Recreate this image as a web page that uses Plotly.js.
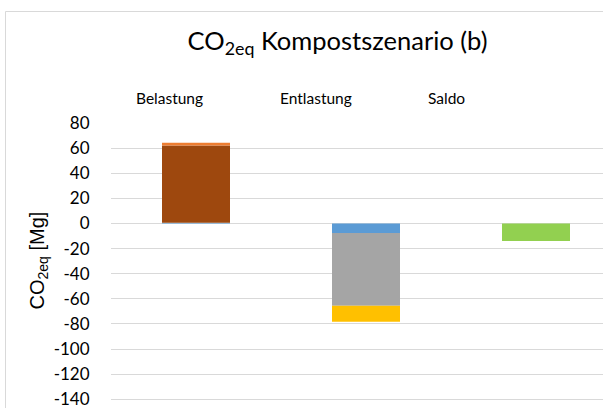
<!DOCTYPE html>
<html>
<head>
<meta charset="utf-8">
<script src="https://cdn.plot.ly/plotly-3.0.1.min.js"></script>
<style>html,body{margin:0;padding:0;background:#fff;overflow:hidden}#chart{width:603px;height:408px}</style>
</head>
<body>
<div id="chart"></div>
<script>
// Data
const categories = ["Belastung", "Entlastung", "Saldo"];
const seriesBlue   = [0.5, -7.5, 0];
const seriesBrown  = [61.5, 0, 0];
const seriesOrange = [2.3, 0, 0];
const seriesGray   = [0, -58, 0];
const seriesYellow = [0, -12.8, 0];
const seriesGreen  = [0, 0, -14];
const yTicks = [80, 60, 40, 20, 0, -20, -40, -60, -80, -100, -120, -140];

const W = 603, H = 408;
const L = 111, T = 123; // plot area left/top in px
const pw = W - L, ph = H - T;
const px = x => (x - L) / pw;
const py = y => (H - y) / ph;

const font = "Lato, 'Open Sans', sans-serif";
function bar(vals, color) {
  return {type: 'bar', x: categories, y: vals, width: 0.4,
          marker: {color: color, line: {width: 0}}, hoverinfo: 'skip', showlegend: false};
}
const data = [
  bar(seriesBlue, '#5B9BD5'),
  bar(seriesBrown, '#9E480E'),
  bar(seriesOrange, '#ED7D31'),
  bar(seriesGray, '#A5A5A5'),
  bar(seriesYellow, '#FFC000'),
  bar(seriesGreen, '#92D050')
];

const labelX = [169.5, 315.7, 446.7];
const annotations = categories.map((c, i) => ({
  text: c, xref: 'paper', yref: 'paper', x: px(labelX[i]), y: py(98.5),
  xanchor: 'center', yanchor: 'middle', showarrow: false,
  font: {family: font, size: 15.5, color: '#000'}
}));
annotations.push({
  text: 'CO<sub>2eq</sub> [Mg]', xref: 'paper', yref: 'paper', x: px(37.5), y: py(261),
  xanchor: 'center', yanchor: 'middle', textangle: -90, showarrow: false,
  font: {family: "'Liberation Sans', Arial, sans-serif", size: 20, color: '#000'}
});

const layout = {
  width: W, height: H,
  margin: {l: L, r: 0, t: T, b: 0, pad: 0},
  paper_bgcolor: '#fff', plot_bgcolor: '#fff',
  barmode: 'relative',
  title: {text: 'CO<sub>2eq</sub> Kompostszenario (b)', x: 337.5 / W, xanchor: 'center',
          xref: 'container', yref: 'container', y: 1 - 41 / H, yanchor: 'middle',
          font: {family: font, size: 25.5, color: '#000'}},
  xaxis: {range: [-0.5, -0.5 + pw / 170], showticklabels: false, showgrid: false,
          zeroline: false, showline: false, ticks: ''},
  yaxis: {range: [-140 - (H - 399.3) / 25.1 * 20, 80], tickvals: yTicks, ticktext: yTicks.map(String),
          showgrid: true, gridcolor: '#d9d9d9', gridwidth: 1, zeroline: false, showline: false,
          ticks: 'outside', ticklen: 17, tickcolor: 'rgba(0,0,0,0)', ticklabeloverflow: 'allow',
          tickfont: {family: font, size: 17, color: '#000'}},
  annotations: annotations,
  shapes: [
    {type: 'line', xref: 'paper', yref: 'paper', x0: px(5.5), x1: px(603), y0: py(11.5), y1: py(11.5),
     line: {color: '#d9d9d9', width: 1}},
    {type: 'line', xref: 'paper', yref: 'paper', x0: px(5.5), x1: px(5.5), y0: py(11.5), y1: py(408),
     line: {color: '#d9d9d9', width: 1}}
  ]
};
Plotly.newPlot('chart', data, layout, {staticPlot: true, displayModeBar: false});
</script>
</body>
</html>
